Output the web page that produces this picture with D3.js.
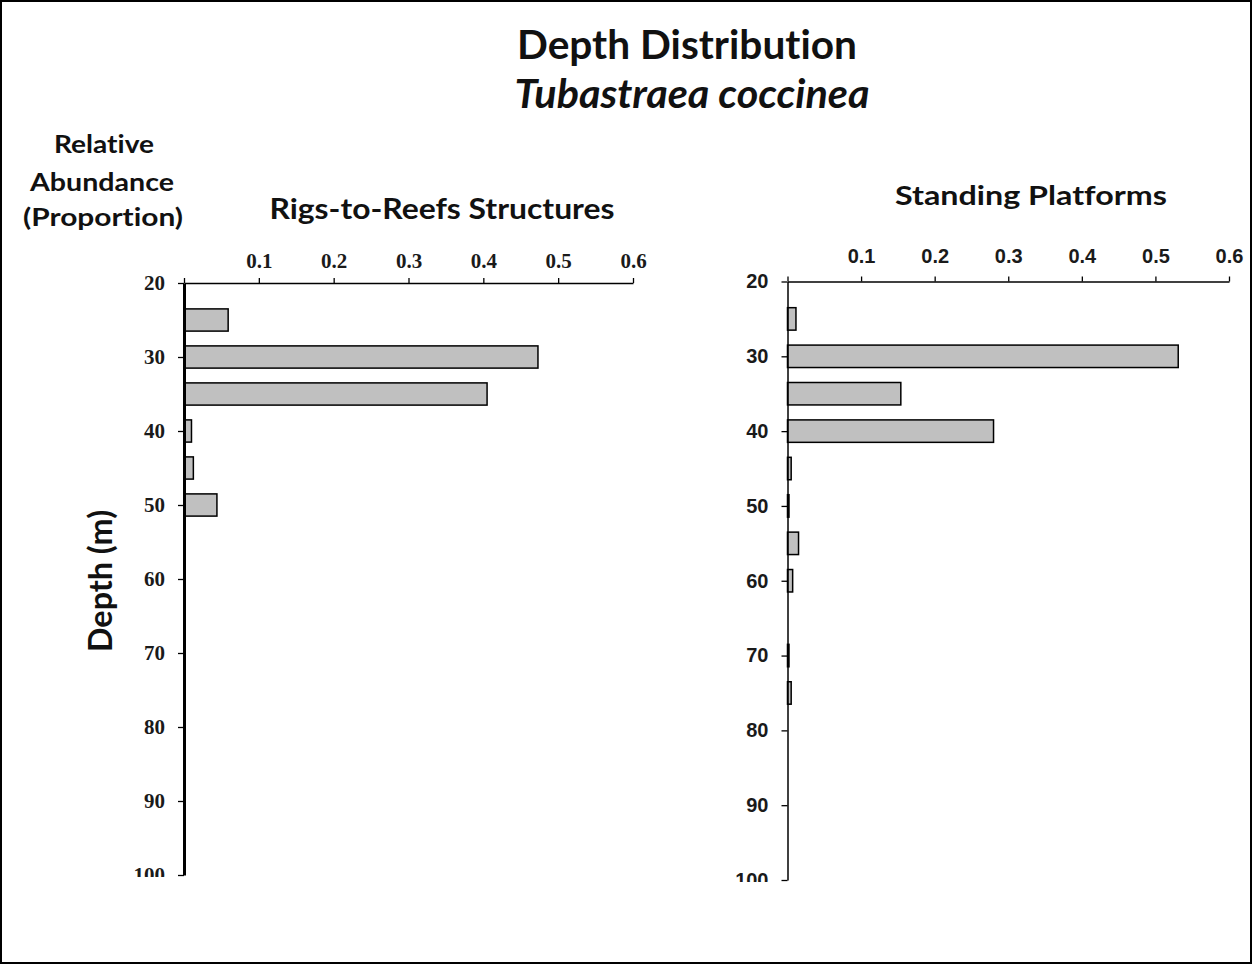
<!DOCTYPE html>
<html>
<head>
<meta charset="utf-8">
<script src="https://cdn.jsdelivr.net/npm/d3@7"></script>
<style>
body { margin: 0; background: #fff; }
svg { display: block; }
text { font-variant-ligatures: none; }
</style>
</head>
<body>
<svg width="1252" height="964"></svg>
<script>
// The data: depth bins (m) and relative abundance for each structure type
var depths = [25, 30, 35, 40, 45, 50, 55, 60, 65, 70, 75, 80, 85, 90, 95];
var rigsToReefs = [0.059, 0.473, 0.405, 0.010, 0.0125, 0.044, 0, 0, 0, 0, 0, 0, 0, 0, 0];
var standingPlatforms = [0.0115, 0.531, 0.154, 0.280, 0.005, 0.002, 0.015, 0.007, 0, 0.002, 0.005, 0, 0, 0, 0];
var xTicks = [0, 0.1, 0.2, 0.3, 0.4, 0.5, 0.6];
var yTicks = [20, 30, 40, 50, 60, 70, 80, 90, 100];

var svg = d3.select("svg"),
    width = +svg.attr("width"),
    height = +svg.attr("height");

var titleFont = "Lato, 'Open Sans', sans-serif";

// frame
svg.append("rect")
    .attr("x", 1).attr("y", 1)
    .attr("width", width - 2).attr("height", height - 2)
    .attr("fill", "#fff")
    .attr("stroke", "#000")
    .attr("stroke-width", 2);

function label(txt, x, y, size, len, italic) {
    return svg.append("text")
        .attr("x", x).attr("y", y)
        .attr("text-anchor", "middle")
        .attr("font-family", titleFont)
        .attr("font-weight", "bold")
        .attr("font-style", italic ? "italic" : "normal")
        .attr("font-size", size)
        .attr("fill", "#111")
        .attr("textLength", len)
        .attr("lengthAdjust", "spacingAndGlyphs")
        .text(txt);
}

label("Depth Distribution", 687, 59, 40, 340);
label("Tubastraea coccinea", 692, 108, 40, 355, true);
label("Relative", 104, 153, 24, 100);
label("Abundance", 102, 191, 24, 144);
label("(Proportion)", 103, 226, 24, 160);
label("Rigs-to-Reefs Structures", 442, 219, 29, 345);
label("Standing Platforms", 1031, 205, 26, 272);
label("Depth (m)", 0, 0, 32, 142)
    .attr("transform", "translate(112,581) rotate(-90)");

function drawPanel(p) {
    var x = d3.scaleLinear().domain([0, 0.6]).range([p.x0, p.x1]);
    var y = d3.scaleLinear().domain([20, 100]).range([p.y0, p.y1]);

    svg.append("clipPath").attr("id", p.id)
        .append("rect")
        .attr("x", 0).attr("y", 0)
        .attr("width", width).attr("height", p.y1 + 2);

    var g = svg.append("g").attr("clip-path", "url(#" + p.id + ")");

    // bars
    var data = depths.map((d, i) => ({ depth: d, value: p.values[i] }))
        .filter(d => d.value > 0);
    g.selectAll("rect.bar")
        .data(data)
        .enter().append("rect")
        .attr("class", "bar")
        .attr("x", x(0))
        .attr("y", d => y(d.depth - 1.5))
        .attr("width", d => x(d.value) - x(0))
        .attr("height", d => y(d.depth + 1.5) - y(d.depth - 1.5))
        .attr("fill", "#c0c0c0")
        .attr("stroke", "#000")
        .attr("stroke-width", 1.5);

    var xAxis = g.append("g")
        .attr("transform", "translate(0," + p.y0 + ")")
        .call(d3.axisTop(x).tickValues(xTicks).tickSize(5).tickSizeOuter(0)
            .tickPadding(p.xPad).tickFormat(d => d === 0 ? "" : d3.format(".1f")(d)));

    var yAxis = g.append("g")
        .attr("transform", "translate(" + p.x0 + ",0)")
        .call(d3.axisLeft(y).tickValues(yTicks).tickSize(6).tickSizeOuter(0)
            .tickPadding(p.yPad));

    [xAxis, yAxis].forEach(function (a) {
        a.selectAll("text")
            .attr("font-family", p.font)
            .attr("font-weight", "bold")
            .attr("font-size", p.fontSize)
            .attr("fill", "#1a1a1a");
        a.selectAll("line").attr("stroke", "#000").attr("stroke-width", 1.3);
        a.select(".domain").attr("stroke", "#000").attr("stroke-width", 1.5);
    });
    yAxis.select(".domain").attr("stroke-width", p.yWidth);
}

drawPanel({
    id: "clipLeft", values: rigsToReefs,
    x0: 184, x1: 633, y0: 283, y1: 875,
    xPad: 10, yPad: 13, yWidth: 3,
    font: "'Liberation Serif', 'Times New Roman', serif", fontSize: 21
});

drawPanel({
    id: "clipRight", values: standingPlatforms,
    x0: 787.5, x1: 1229, y0: 281.5, y1: 880,
    xPad: 14, yPad: 13, yWidth: 1.5,
    font: "'Liberation Sans', Arial, sans-serif", fontSize: 20
});
</script>
</body>
</html>
